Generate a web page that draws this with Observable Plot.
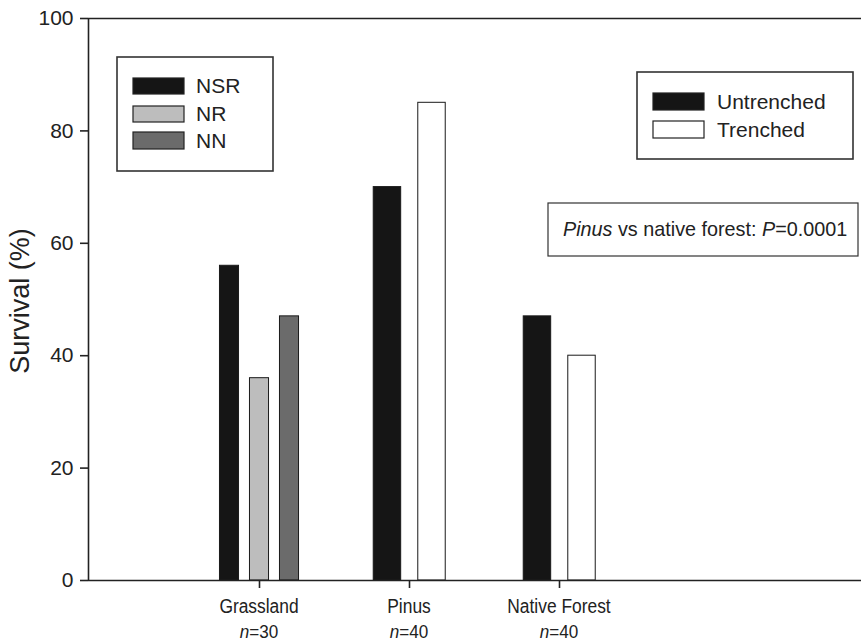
<!DOCTYPE html>
<html>
<head>
<meta charset="utf-8">
<script src="https://cdn.jsdelivr.net/npm/d3@7"></script>
<script src="https://cdn.jsdelivr.net/npm/@observablehq/plot@0.6"></script>
<style>
  html, body { margin: 0; padding: 0; background: #fff; }
  #chart { width: 861px; height: 643px; position: relative; }
  svg { font-family: "Liberation Sans", Arial, sans-serif; }
</style>
</head>
<body>
<div id="chart"></div>
<script>
// ---- data ----
const groups = ["Grassland", "Pinus", "Native Forest"];
const groupN = ["30", "40", "40"];
const grassSeries = ["NSR", "NR", "NN"];
const grassValues = [56, 36, 47];
const treatSeries = ["Untrenched", "Trenched"];
const pinusValues = [70, 85];
const forestValues = [47, 40];
const yTicks = [0, 20, 40, 60, 80, 100];
const yLabel = "Survival (%)";
const pLabelItalic = "Pinus";
const pLabelRest = " vs native forest: ";
const pValueLabel = "0.0001";

// ---- styles ----
const fills = {NSR: "#151515", NR: "#bdbdbd", NN: "#6b6b6b", Untrenched: "#151515", Trenched: "#ffffff"};
const FF = '"Liberation Sans", Arial, sans-serif';

// build rows (positions in category units; layout only)
const rows = [];
grassSeries.forEach((s, i) => rows.push({group: 1, series: s, value: grassValues[i], off: (i - 1) * 0.2, w: 0.127}));
treatSeries.forEach((s, i) => rows.push({group: 2, series: s, value: pinusValues[i], off: (i === 0 ? -0.147 : 0.15), w: 0.183}));
treatSeries.forEach((s, i) => rows.push({group: 3, series: s, value: forestValues[i], off: (i === 0 ? -0.147 : 0.15), w: 0.183}));

const xDomain = [-0.14, 5.0133];

const plot = Plot.plot({
  width: 861,
  height: 643,
  marginLeft: 88,
  marginRight: 0,
  marginTop: 18,
  marginBottom: 63,
  style: {fontFamily: FF, fontSize: "21px", color: "#222", background: "transparent", overflow: "visible"},
  x: {domain: xDomain, axis: null},
  y: {domain: [0, 100], axis: null},
  marks: [
    Plot.rectY(rows, {
      x1: d => d.group + d.off - d.w / 2,
      x2: d => d.group + d.off + d.w / 2,
      y1: 0,
      y2: "value",
      fill: d => fills[d.series],
      stroke: "#1a1a1a",
      strokeWidth: 1
    }),
    Plot.ruleY([0, 100], {stroke: "#222", strokeWidth: 1.6}),
    Plot.ruleX([xDomain[0]], {y1: 0, y2: 100, stroke: "#222", strokeWidth: 1.6}),
    Plot.axisY({ticks: yTicks, tickSize: 8, tickPadding: 7, tickFormat: d => String(d), fontSize: 21, strokeWidth: 1.6, stroke: "#222", label: null}),
    Plot.axisX({ticks: [1, 2, 3], tickSize: 8, tickFormat: () => "", strokeWidth: 1.6, stroke: "#222", label: null})
  ]
});
document.getElementById("chart").appendChild(plot);

// ---- annotations ----
const svg = d3.select(plot);
const xs = plot.scale("x");
const g = svg.append("g").attr("font-family", FF).attr("fill", "#222").attr("text-anchor", "start");

// y axis label
g.append("text").attr("transform", "translate(29,301) rotate(-90)").attr("text-anchor", "middle")
  .attr("font-size", 27).text(yLabel);

// x category labels with n = lines
groups.forEach((name, i) => {
  const cx = xs.apply(i + 1);
  g.append("text").attr("transform", `translate(${cx},613) scale(0.87,1)`).attr("text-anchor", "middle")
    .attr("font-size", 20).text(name);
  const t = g.append("text").attr("transform", `translate(${cx},638) scale(0.9,1)`).attr("text-anchor", "middle").attr("font-size", 19);
  t.append("tspan").attr("font-style", "italic").text("n");
  t.append("tspan").text("=" + groupN[i]);
});

function legend(box, items, swX, swW, textX) {
  g.append("rect").attr("x", box[0]).attr("y", box[1]).attr("width", box[2] - box[0]).attr("height", box[3] - box[1])
    .attr("fill", "#fff").attr("stroke", "#333").attr("stroke-width", 1.6);
  items.forEach(([name, y0, y1]) => {
    g.append("rect").attr("x", swX).attr("y", y0).attr("width", swW).attr("height", y1 - y0)
      .attr("fill", fills[name]).attr("stroke", "#222").attr("stroke-width", 1.2);
    g.append("text").attr("x", textX).attr("y", (y0 + y1) / 2).attr("dy", "0.35em").attr("font-size", 21).text(name);
  });
}
legend([117, 57, 273, 171], [["NSR", 78, 94], ["NR", 106, 122], ["NN", 132, 149]], 133, 51, 196);
legend([637, 72, 853, 159], [["Untrenched", 93, 110], ["Trenched", 121, 138]], 653, 51, 717);

g.append("rect").attr("x", 548).attr("y", 203).attr("width", 310).attr("height", 53)
  .attr("fill", "#fff").attr("stroke", "#333").attr("stroke-width", 1.2);
const pt = g.append("text").attr("x", 563).attr("y", 229.5).attr("dy", "0.35em").attr("font-size", 19.8);
pt.append("tspan").attr("font-style", "italic").text(pLabelItalic);
pt.append("tspan").text(pLabelRest);
pt.append("tspan").attr("font-style", "italic").text("P");
pt.append("tspan").text("=" + pValueLabel);
</script>
</body>
</html>
